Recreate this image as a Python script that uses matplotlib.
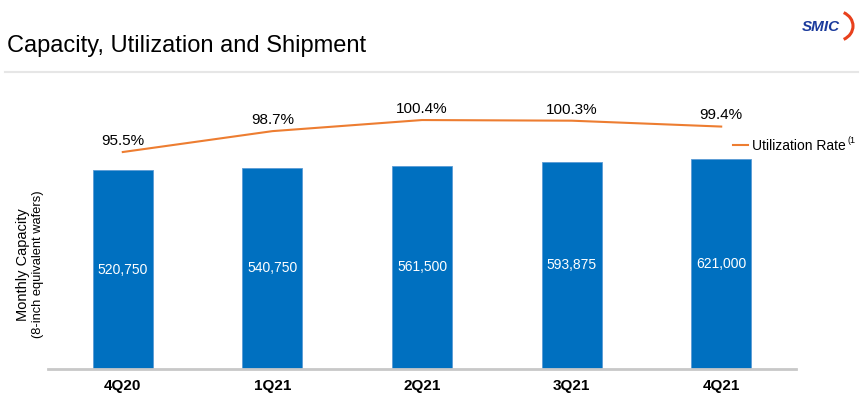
import matplotlib.pyplot as plt
from matplotlib.lines import Line2D
from matplotlib.patches import Arc

quarters = ['4Q20', '1Q21', '2Q21', '3Q21', '4Q21']
capacity = [520750, 540750, 561500, 593875, 621000]
utilization = [95.5, 98.7, 100.4, 100.3, 99.4]

plt.rcParams['font.family'] = ['Liberation Sans', 'DejaVu Sans']

bar_color = '#0070C0'
line_color = '#ED7D31'

W, H = 865, 404
fig = plt.figure(figsize=(W / 100, H / 100), dpi=100)
ax = fig.add_axes([48 / W, (H - 369) / H, (796 - 48) / W, (369 - 90) / H])

# bars start from a non-zero floor, like the original slide
floor = -1292900
x = list(range(len(quarters)))
ax.bar(x, [c - floor for c in capacity], bottom=floor, width=0.4,
       color=bar_color, edgecolor='#5b9bd5', linewidth=0.6, zorder=2)
ax.set_ylim(floor, 1249900)
ax.set_xlim(-0.5, len(quarters) - 0.5)
for xi, c in zip(x, capacity):
    ax.text(xi, (floor + c) / 2, f'{c:,}', color='white', ha='center', va='center', fontsize=10)

ax.set_xticks(x)
ax.set_xticklabels(quarters, fontsize=11, fontweight='bold')
ax.tick_params(axis='x', length=0, pad=7)
ax.set_yticks([])
for s in ['top', 'right', 'left']:
    ax.spines[s].set_visible(False)
ax.spines['bottom'].set_color('#c8c8c8')
ax.spines['bottom'].set_linewidth(2)

ax2 = ax.twinx()
ax2.plot(x, utilization, color=line_color, linewidth=1.5)
ax2.set_ylim(62.27, 105.0)
ax2.axis('off')
for xi, u in zip(x, utilization):
    ax2.annotate(f'{u}%', (xi, u), xytext=(0, 3), textcoords='offset points',
                 ha='center', va='bottom', fontsize=11)

fig.legend([Line2D([], [], color=line_color, linewidth=1.5)], ['Utilization Rate'],
           loc='center left', bbox_to_anchor=(726 / W, 1 - 146 / H), frameon=False,
           borderpad=0, handlelength=1.1, handletextpad=0.3, fontsize=10)
fig.text(848 / W, 1 - 145 / H, '(1', fontsize=6.5, va='bottom', ha='left')

# y label
fig.text(23 / W, 1 - 265 / H, 'Monthly Capacity', rotation=90, ha='center', va='center', fontsize=10.5)
fig.text(38 / W, 1 - 264 / H, '(8-inch equivalent wafers)', rotation=90, ha='center', va='center', fontsize=9.3)

# header
fig.text(7 / W, 1 - 46 / H, 'Capacity, Utilization and Shipment', fontsize=17, va='center', ha='left')
fig.add_artist(Line2D([5 / W, 858 / W], [1 - 72 / H, 1 - 72 / H], color='#e6e6e6', linewidth=1.5))
fig.text(821 / W, 1 - 27 / H, 'SMIC', color='#1a3a9c', fontsize=11, fontweight='bold', style='italic',
         ha='center', va='center')
fig.add_artist(Arc((836 / W, 1 - 26 / H), 34 / W, 30 / H, theta1=-75, theta2=75,
                   color='#e8401c', linewidth=2.2, transform=fig.transFigure))

fig.savefig('out.png', dpi=100)
